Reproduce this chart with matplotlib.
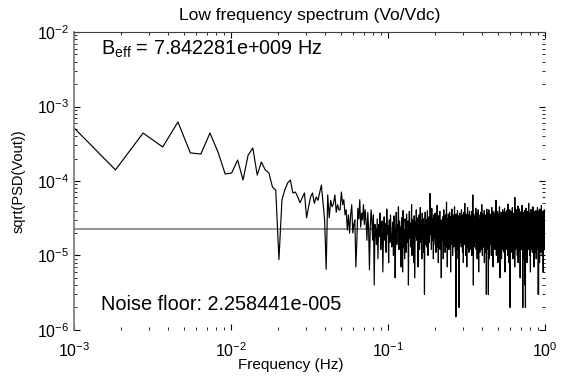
"""
Low frequency spectrum (Vo/Vdc) - sqrt(PSD) of Vout on log-log axes,
with the estimated noise floor drawn as a horizontal line.
"""

import matplotlib
matplotlib.use("Agg")
import matplotlib.pyplot as plt
import numpy as np

plt.rcParams["font.family"] = ["Liberation Sans", "DejaVu Sans"]
plt.rcParams["mathtext.default"] = "regular"

# ── data ──
df = 0.92e-3                 # frequency resolution (Hz)
b_eff = 7.842281e9           # effective bandwidth (Hz)
noise_floor = 2.258441e-5    # sqrt(PSD) noise floor

# sqrt(PSD(Vout)) in units of 1e-6, bins 1..90 (read one by one)
low_bins = [
    620, 141, 440, 286, 620, 238, 230, 440, 245, 124,
    128, 191, 103, 223, 277, 120, 180, 141, 128, 83,
    75, 8.8, 56, 76, 94, 103, 69, 71, 61, 51,
    60, 69, 32, 45, 61, 69, 50, 61, 55, 70,
    88, 51, 30, 6.5, 65, 32, 55, 45, 50, 65,
    38, 48, 41, 41, 71, 48, 56, 35, 41, 22,
    35, 20, 35, 48, 20, 26, 30, 7, 16, 43,
    31, 56, 24, 37, 30, 48, 26, 41, 28, 16,
    38, 22, 6.4, 24, 41, 30, 16, 35, 4, 26,
]

# bins 91 onward: the dense noise band (estimated, units of 1e-6)
high_bins = [
    22, 14, 31, 9, 26, 18, 37, 12, 24, 29, 6, 20, 33, 16, 27, 11, 42, 19, 25, 8, 30, 15, 35, 21, 13,
    17, 28, 10, 34, 23, 5, 19, 38, 14, 26, 21, 45, 12, 29, 18, 24, 7, 32, 16, 6, 40, 13, 22, 9, 31,
    25, 11, 36, 20, 15, 29, 4, 23, 39, 17, 27, 13, 21, 48, 10, 30, 19, 26, 8, 34, 5, 14, 28, 18, 41,
    16, 32, 21, 7, 27, 19, 35, 12, 24, 44, 15, 20, 29, 9, 37, 23, 17, 31, 11, 26, 3, 22, 38, 14, 25,
    30, 13, 24, 40, 18, 10, 28, 21, 33, 15, 25, 68, 36, 19, 27, 12, 43, 22, 16, 31, 20, 9, 26, 35, 17,
    21, 37, 14, 26, 11, 32, 23, 18, 47, 13, 28, 20, 8, 34, 24, 15, 29, 39, 12, 22, 17, 30, 5, 25, 19,
    27, 16, 33, 20, 9, 25, 41, 14, 22, 30, 18, 11, 35, 26, 13, 24, 52, 19, 28, 7, 31, 21, 16, 36, 23,
    12, 29, 19, 38, 24, 15, 27, 6, 33, 20, 26, 14, 42, 17, 30, 10, 23, 35, 18, 25, 13, 32, 21, 45, 16,
    28, 20, 11, 31, 1.5, 36, 17, 25, 9, 29, 14, 40, 23, 18, 34, 12, 27, 21, 2, 30, 19, 37, 15, 26, 24,
    19, 33, 24, 13, 41, 20, 28, 16, 35, 11, 26, 22, 31, 8, 25, 38, 15, 29, 18, 24, 50, 14, 21, 33, 10,
    24, 15, 36, 21, 27, 7, 32, 18, 23, 44, 13, 28, 20, 35, 16, 26, 11, 30, 22, 39, 17, 25, 12, 34, 19,
    31, 22, 14, 28, 18, 39, 10, 25, 33, 19, 27, 15, 65, 21, 29, 4, 24, 36, 17, 23, 13, 32, 20, 28, 16,
    15, 34, 26, 19, 43, 23, 12, 30, 21, 17, 37, 25, 9, 28, 19, 33, 22, 14, 41, 27, 18, 6, 31, 24, 20,
    26, 18, 30, 11, 24, 35, 20, 27, 14, 38, 22, 16, 29, 12, 26, 48, 19, 23, 31, 10, 36, 21, 15, 28, 34,
    20, 27, 13, 33, 17, 25, 40, 8, 29, 22, 18, 31, 24, 14, 35, 20, 27, 11, 33, 25, 3, 28, 17, 42, 22,
    33, 12, 25, 21, 37, 16, 28, 23, 11, 3, 26, 19, 41, 15, 24, 32, 9, 27, 20, 36, 14, 29, 22, 17, 31,
    18, 29, 35, 15, 22, 10, 31, 26, 44, 17, 23, 28, 13, 34, 21, 16, 39, 25, 7, 30, 19, 27, 12, 37, 24,
    23, 36, 17, 28, 14, 33, 19, 24, 30, 12, 40, 21, 27, 16, 29, 55, 18, 25, 10, 32, 22, 15, 34, 20, 26,
    14, 26, 21, 39, 25, 8, 30, 18, 27, 23, 15, 35, 20, 11, 28, 33, 17, 26, 45, 13, 24, 31, 19, 5, 29,
    30, 19, 28, 13, 34, 22, 17, 38, 24, 27, 9, 31, 21, 25, 16, 36, 23, 12, 29, 20, 41, 26, 15, 33, 18,
    25, 14, 37, 20, 29, 16, 27, 11, 33, 24, 19, 43, 13, 30, 22, 6, 35, 18, 26, 28, 15, 32, 21, 38, 17,
    19, 32, 24, 15, 40, 21, 28, 34, 12, 25, 18, 30, 23, 37, 10, 27, 20, 49, 16, 24, 31, 14, 29, 22, 8,
    27, 17, 30, 22, 13, 35, 26, 19, 24, 41, 15, 28, 2, 33, 21, 25, 17, 36, 20, 29, 12, 26, 39, 18, 23,
    16, 38, 21, 27, 33, 11, 24, 29, 18, 44, 22, 14, 31, 26, 19, 35, 9, 28, 23, 17, 32, 25, 13, 37, 20,
    32, 20, 15, 29, 24, 36, 17, 26, 7, 60, 22, 39, 19, 25, 14, 30, 27, 12, 42, 21, 33, 18, 24, 28, 15,
    22, 28, 40, 16, 23, 13, 34, 20, 27, 31, 10, 25, 37, 18, 29, 21, 46, 15, 26, 8, 33, 23, 19, 30, 24,
    13, 31, 24, 19, 36, 27, 15, 42, 22, 18, 29, 25, 11, 34, 20, 28, 5, 31, 24, 17, 38, 22, 27, 14, 35,
    29, 21, 33, 12, 26, 39, 18, 24, 30, 16, 23, 47, 20, 27, 13, 32, 25, 19, 36, 10, 28, 2, 34, 17, 26,
    20, 35, 17, 28, 22, 14, 31, 25, 38, 19, 26, 9, 33, 21, 29, 16, 40, 24, 12, 30, 23, 27, 4, 32, 18,
    26, 16, 2, 37, 20, 24, 11, 33, 18, 27, 43, 22, 15, 30, 25, 35, 19, 28, 14, 24, 31, 8, 36, 21, 27,
    18, 30, 23, 14, 34, 28, 20, 39, 16, 25, 31, 12, 27, 22, 36, 17, 29, 50, 21, 24, 13, 33, 26, 19, 28,
    35, 22, 27, 19, 10, 30, 24, 16, 37, 21, 28, 33, 18, 25, 6, 31, 22, 41, 15, 27, 20, 34, 12, 29, 23,
    21, 26, 14, 32, 25, 41, 17, 23, 29, 13, 35, 20, 27, 24, 38, 11, 30, 19, 26, 16, 33, 22, 45, 18, 25,
    28, 17, 34, 23, 30, 12, 26, 37, 19, 24, 16, 29, 7, 32, 21, 27, 36, 14, 25, 30, 18, 23, 39, 20, 15,
    24, 33, 20, 27, 15, 36, 22, 28, 11, 31, 25, 19, 40, 17, 26, 33, 23, 9, 28, 20, 35, 16, 30, 24, 13,
    17, 29, 38, 21, 26, 18, 32, 14, 27, 23, 44, 20, 30, 16, 25, 12, 34, 28, 19, 37, 22, 26, 3, 31, 21,
    3, 19, 25, 34, 13, 28, 22, 40, 18, 26, 30, 15, 24, 35, 21, 8, 29, 23, 33, 17, 27, 42, 20, 25, 16,
    23, 36, 16, 26, 31, 20, 11, 29, 24, 38, 19, 27, 22, 14, 33, 25, 30, 18, 47, 21, 28, 13, 26, 34, 19,
    15, 27, 32, 22, 18, 35, 25, 10, 30, 21, 28, 39, 17, 24, 31, 20, 13, 36, 23, 27, 6, 29, 22, 33, 26,
    29, 20, 24, 37, 22, 16, 30, 27, 14, 34, 19, 26, 41, 23, 28, 12, 32, 21, 25, 36, 18, 30, 15, 27, 24,
]

spectrum = np.array(low_bins + high_bins) * 1e-6
freqs = df * np.arange(1, len(spectrum) + 1)


def matlab_e(x):
    """Format like MATLAB's %e on Windows: three-digit exponent."""
    mant, exp = ("%e" % x).split("e")
    return "%se%s%03d" % (mant, exp[0], abs(int(exp)))


# ── plot ──
fig = plt.figure(figsize=(5.64, 3.77), dpi=100)
ax = fig.add_axes([0.131, 0.125, 0.835, 0.790])

ax.axhline(noise_floor, color="#808080", linewidth=1.2, zorder=1)
ax.loglog(freqs, spectrum, color="black", linewidth=0.85, zorder=2)

ax.set_xlim(1e-3, 1e0)
ax.set_ylim(1e-6, 1e-2)

ax.set_title("Low frequency spectrum (Vo/Vdc)", fontsize=12.5, pad=9)
ax.set_xlabel("Frequency (Hz)", fontsize=11, labelpad=0)
ax.xaxis.set_label_coords(0.461, -0.095)
ax.set_ylabel("sqrt(PSD(Vout))", fontsize=10.5, labelpad=8)

ax.text(0.057, 0.943, "$B_{eff}$ = %s Hz" % matlab_e(b_eff), transform=ax.transAxes,
        fontsize=14.3, va="center", ha="left")
ax.text(0.057, 0.084, "Noise floor: %s" % matlab_e(noise_floor), transform=ax.transAxes,
        fontsize=14.3, va="center", ha="left")

# MATLAB-like frame: ticks inward on all sides, only the left spine solid
ax.tick_params(which="both", direction="in", top=True, right=True, labelsize=11.5, colors="black")
ax.tick_params(axis="x", which="major", pad=8)
ax.tick_params(which="major", length=4, width=0.8)
ax.tick_params(which="minor", length=2, width=0.6)
ax.spines["left"].set_color("#808080")
ax.spines["left"].set_linewidth(1.3)
ax.spines["top"].set_color("#404040")
ax.spines["top"].set_linewidth(0.8)
ax.spines["bottom"].set_visible(False)
ax.spines["right"].set_visible(False)

fig.savefig("out.png", dpi=100)
plt.close(fig)
